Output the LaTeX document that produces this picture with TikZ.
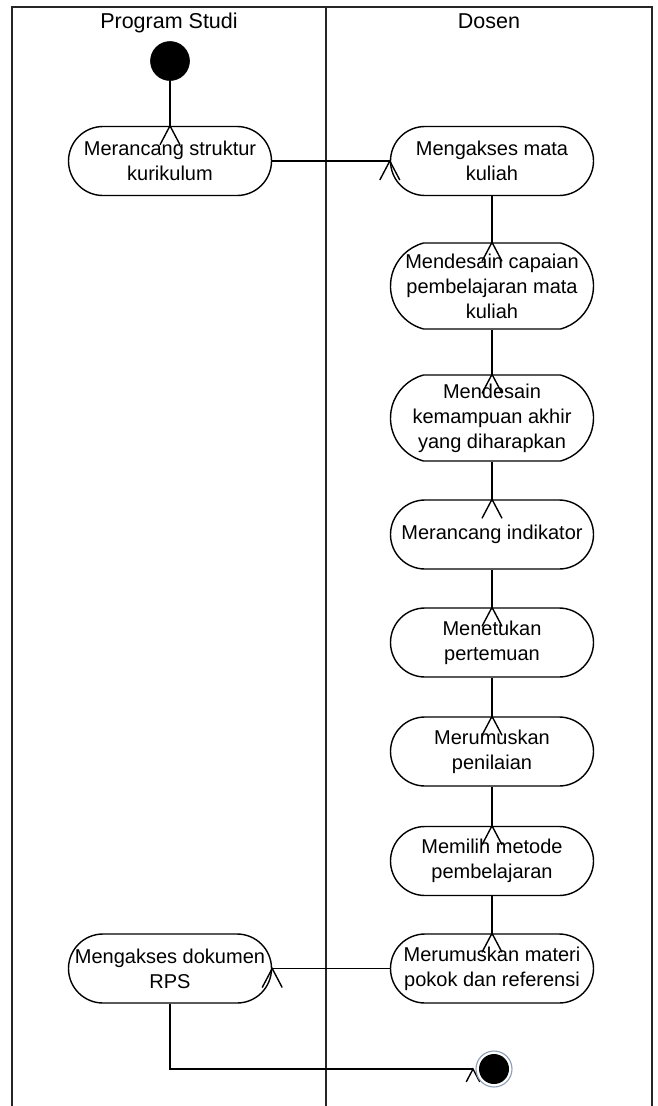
\documentclass[tikz,border=0pt]{standalone}
\usepackage{fontspec}
\setmainfont{Liberation Sans}
\usetikzlibrary{shapes.misc}
\begin{document}
\begin{tikzpicture}[x=1pt,y=-1pt,
  line width=1.4pt,
  lane/.style={line width=1.5pt,draw=black!85},
  lanetitle/.style={anchor=base,font=\fontsize{21.5}{25}\selectfont},
  activity/.style={draw,rounded rectangle,rounded rectangle arc length=180,
    minimum width=203pt,minimum height=69pt,inner sep=0pt,align=center,
    font=\fontsize{20}{25}\selectfont},
  tall/.style={minimum height=86pt,rounded rectangle arc length=150},
  initial/.style={circle,fill=black,draw=black,line width=0.6pt,minimum size=39pt,inner sep=0pt},
  final/.style={circle,draw=ringblue,line width=1.1pt,fill=white,minimum size=36pt,inner sep=0pt,outer sep=3pt},
  flow/.style={draw=black,line width=1.4pt},
  caret/.pic={\draw[line width=1.4pt] (-10,19) -- (0,0) -- (10,19);}
]
\definecolor{ringblue}{HTML}{8C9DB6}
\useasboundingbox (0,0) rectangle (657,1106);

% swimlane frame
\draw[lane] (12,1110) -- (12,7) -- (652,7) -- (652,1110);
\draw[lane] (326,7) -- (326,1110);
\node[lanetitle] (laneA) at (169,28) {Program Studi};
\node[lanetitle] (laneB) at (489,28) {Dosen};

% initial state
\node[initial] (start) at (170,61) {};

% activities
\node[activity] (n1) at (170,161) {Merancang struktur\\kurikulum};
\node[activity] (n2) at (492,161) {Mengakses mata\\kuliah};
\node[activity,tall] (n3) at (492,286) {Mendesain capaian\\pembelajaran mata\\kuliah};
\node[activity,tall] (n4) at (492,418) {Mendesain\\kemampuan akhir\\yang diharapkan};
\node[activity] (n5) at (492,534.5) {Merancang indikator};
\node[activity] (n6) at (492,642.5) {Menetukan\\pertemuan};
\node[activity] (n7) at (492,751.5) {Merumuskan\\penilaian};
\node[activity] (n8) at (492,861) {Memilih metode\\pembelajaran};
\node[activity] (n9) at (492,968.5) {Merumuskan materi\\pokok dan referensi};
\node[activity] (n10) at (170,968.5) {Mengakses dokumen\\RPS};

% control flows
\draw[flow] (start) -- (n1.north);
\pic at (n1.north) {caret};
\draw[flow] (n1.east) -- (n2.west);
\pic at (n2.west) {caret};
\foreach \a/\b in {n2/n3,n3/n4,n4/n5,n5/n6,n6/n7,n7/n8,n8/n9}{
  \draw[flow] (\a.south) -- (\b.north);
  \pic at (\b.north) {caret};
}
\draw[flow] (n9.west) -- (n10.east);
\pic at (n10.east) {caret};

% final state, drawn over the end of its incoming flow
\coordinate (finc) at (494,1069);
\draw[flow] (n10.south) |- ([xshift=-21pt]finc);
\pic[scale=0.68] at ([xshift=-21pt]finc) {caret};
\node[final] (fin) at (finc) {};
\fill (fin.center) circle (15);
\end{tikzpicture}
\end{document}
